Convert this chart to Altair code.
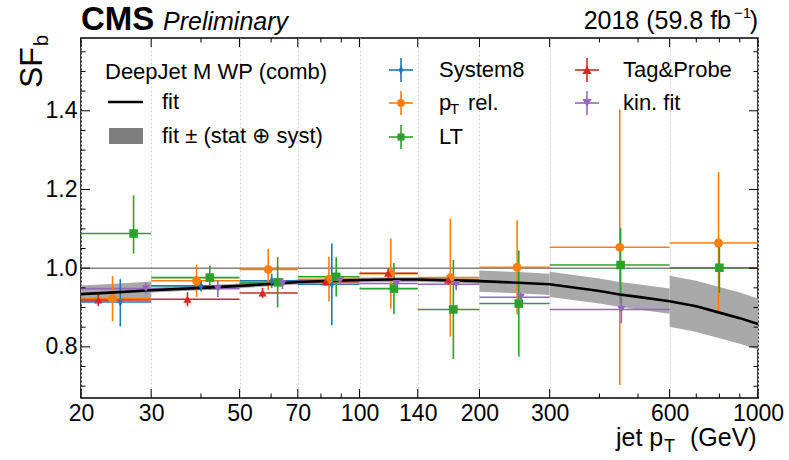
import altair as alt
import pandas as pd

FONT = "Liberation Sans"
W, H = 677, 360

# jet pT bin edges (GeV)
edges = [20, 30, 50, 70, 100, 140, 200, 300, 600, 1000]

methods = ["System8", "pT rel.", "LT", "Tag&Probe", "kin. fit"]
method_colors = ["#1f77b4", "#ff7f0e", "#2ca02c", "#d62728", "#9467bd"]
thin_diamond = "M0,-1L0.5,0L0,1L-0.5,0Z"
method_shapes = [thin_diamond, "circle", "square", "triangle-up", "triangle-down"]
method_sizes = [85, 62, 50, 85, 85]

# scale-factor measurements, one entry per pT bin starting from the first bin
sys8_pt = [25.1, 40.0, 60.2, 85.2]
sys8_sf = [0.914, 0.955, 0.968, 0.959]
sys8_err_dn = [0.062, 0.014, 0.018, 0.104]
sys8_err_up = [0.058, 0.014, 0.018, 0.104]

ptrel_pt = [24.0, 39.0, 59.0, 83.8, 119.8, 169.0, 248.6, 450.0, 796.0]
ptrel_sf = [0.923, 0.968, 0.997, 0.972, 0.986, 0.976, 1.002, 1.053, 1.064]
ptrel_err_dn = [0.058, 0.041, 0.052, 0.057, 0.089, 0.150, 0.120, 0.350, 0.180]
ptrel_err_up = [0.057, 0.041, 0.052, 0.057, 0.089, 0.150, 0.120, 0.350, 0.180]

lt_pt = [27.1, 42.1, 62.3, 87.4, 122.0, 172.0, 251.0, 452.0, 800.0]
lt_sf = [1.088, 0.976, 0.964, 0.978, 0.948, 0.895, 0.910, 1.008, 1.001]
lt_err_dn = [0.051, 0.031, 0.064, 0.050, 0.065, 0.126, 0.135, 0.095, 0.064]
lt_err_up = [0.097, 0.031, 0.064, 0.050, 0.065, 0.126, 0.135, 0.095, 0.064]

tnp_pt = [22.1, 37.0, 57.1, 82.2, 118.0, 167.0]
tnp_sf = [0.919, 0.921, 0.937, 0.965, 0.987, 0.970]
tnp_err_dn = [0.015, 0.018, 0.013, 0.010, 0.012, 0.012]
tnp_err_up = [0.015, 0.018, 0.013, 0.010, 0.012, 0.012]

kin_pt = [29.1, 44.1, 64.1, 89.4, 124.0, 174.8, 254.0, 454.0]
kin_sf = [0.948, 0.948, 0.961, 0.968, 0.961, 0.959, 0.926, 0.895]
kin_err_dn = [0.015, 0.021, 0.014, 0.010, 0.012, 0.015, 0.012, 0.035]
kin_err_up = [0.015, 0.021, 0.014, 0.010, 0.012, 0.015, 0.012, 0.035]

# combined fit and its per-bin (stat + syst) uncertainty
fit_pt = [20, 25, 30, 40, 50, 60, 70, 85, 100, 120, 140, 170, 200, 250, 300,
          400, 450, 500, 600, 700, 800, 900, 1000]
fit_sf = [0.934, 0.939, 0.944, 0.950, 0.955, 0.960, 0.965, 0.968, 0.970, 0.971,
          0.971, 0.969, 0.967, 0.963, 0.959, 0.942, 0.933, 0.927, 0.916, 0.903,
          0.887, 0.873, 0.858]
band_err = [0.022, 0.006, 0.006, 0.006, 0.006, 0.006, 0.027, 0.032, 0.065]

# axis ticks
x_major = edges
x_minor = [40, 60, 80, 90, 400, 500, 700, 800, 900]
y_major = [0.8, 1.0, 1.2, 1.4]
y_minor = [0.70, 0.75, 0.85, 0.90, 0.95, 1.05, 1.10, 1.15, 1.25, 1.30, 1.35,
           1.45, 1.50, 1.55]

# ---- tables -------------------------------------------------------------
series = [
    ("System8", sys8_pt, sys8_sf, sys8_err_dn, sys8_err_up),
    ("pT rel.", ptrel_pt, ptrel_sf, ptrel_err_dn, ptrel_err_up),
    ("LT", lt_pt, lt_sf, lt_err_dn, lt_err_up),
    ("Tag&Probe", tnp_pt, tnp_sf, tnp_err_dn, tnp_err_up),
    ("kin. fit", kin_pt, kin_sf, kin_err_dn, kin_err_up),
]
rows = []
for name, pts, sfs, dns, ups in series:
    for i, (p, s, d, u) in enumerate(zip(pts, sfs, dns, ups)):
        rows.append(dict(method=name, pt=p, sf=s, lo=s - d, hi=s + u,
                         xlo=edges[i], xhi=edges[i + 1]))
meas = pd.DataFrame(rows)

band_rows = []
for i in range(len(edges) - 1):
    for p, s in zip(fit_pt, fit_sf):
        if edges[i] <= p <= edges[i + 1]:
            band_rows.append(dict(bin=i, pt=p, lo=s - band_err[i], hi=s + band_err[i]))
band = pd.DataFrame(band_rows)
fit = pd.DataFrame({"pt": fit_pt, "sf": fit_sf})

# ---- scales and axes ----------------------------------------------------
xscale = alt.Scale(type="log", domain=[20, 1000], nice=False)
yscale = alt.Scale(domain=[0.67, 1.585], nice=False, zero=False)
xaxis = alt.Axis(values=x_major, format="d", labelFontSize=23, labelFont=FONT,
                 labelColor="black", labelPadding=4, labelFlush=False,
                 labelOverlap=False, ticks=False, domain=False, grid=True,
                 gridColor="#d4d4d4", gridDash=[2, 2], gridWidth=1, title=None)
yaxis = alt.Axis(values=y_major, format=".1f", labelFontSize=23, labelFont=FONT,
                 labelColor="black", labelPadding=4, ticks=False, domain=False,
                 grid=False, title=None)


def X(field):
    return alt.X(field, type="quantitative", scale=xscale, axis=xaxis)


def Y(field):
    return alt.Y(field, type="quantitative", scale=yscale, axis=yaxis)


color = alt.Color("method:N", scale=alt.Scale(domain=methods, range=method_colors),
                  legend=None)

layers = []

# uncertainty band, stepped per bin
layers.append(alt.Chart(band).mark_area(color="#a9a9a9", opacity=1).encode(
    x=X("pt"), y=Y("lo"), y2="hi:Q", detail="bin:N"))

# reference line at SF = 1
layers.append(alt.Chart(pd.DataFrame({"v": [1.0]})).mark_rule(
    color="#444444", strokeWidth=1).encode(y=Y("v")))

# error bars
layers.append(alt.Chart(meas).mark_rule(strokeWidth=1.6).encode(
    x=X("xlo"), x2="xhi:Q", y=Y("sf"), color=color))
layers.append(alt.Chart(meas).mark_rule(strokeWidth=1.6).encode(
    x=X("pt"), y=Y("lo"), y2="hi:Q", color=color))

# fit curve
layers.append(alt.Chart(fit).mark_line(color="black", strokeWidth=2.6).encode(
    x=X("pt"), y=Y("sf")))

# markers
layers.append(alt.Chart(meas).mark_point(filled=True, opacity=1, strokeWidth=0).encode(
    x=X("pt"), y=Y("sf"), color=color,
    shape=alt.Shape("method:N", scale=alt.Scale(domain=methods, range=method_shapes),
                    legend=None),
    size=alt.Size("method:N", scale=alt.Scale(domain=methods, range=method_sizes),
                  legend=None)))

# inward ticks on all four sides
def xticks(vals, length):
    d = pd.DataFrame({"v": vals})
    return [
        alt.Chart(d).mark_rule(color="black", strokeWidth=1).encode(
            x=X("v"), y=alt.value(H), y2=alt.value(H - length)),
        alt.Chart(d).mark_rule(color="black", strokeWidth=1).encode(
            x=X("v"), y=alt.value(0), y2=alt.value(length)),
    ]


def yticks(vals, length):
    d = pd.DataFrame({"v": vals})
    return [
        alt.Chart(d).mark_rule(color="black", strokeWidth=1).encode(
            y=Y("v"), x=alt.value(0), x2=alt.value(length)),
        alt.Chart(d).mark_rule(color="black", strokeWidth=1).encode(
            y=Y("v"), x=alt.value(W), x2=alt.value(W - length)),
    ]


layers += xticks(x_major, 9) + xticks(x_minor, 4.5)
layers += yticks(y_major, 9) + yticks(y_minor, 4.5)


# ---- free text and legend ------------------------------------------------
def txt(s, x, y, size=22, align="left", baseline="middle", **kw):
    return alt.Chart(pd.DataFrame({"s": [s]})).mark_text(
        align=align, baseline=baseline, fontSize=size, font=FONT, color="black",
        **kw).encode(text="s:N", x=alt.value(x), y=alt.value(y))


def seg(x1, y1, x2, y2, col, w):
    return alt.Chart(pd.DataFrame({"a": [0]})).mark_rule(color=col, strokeWidth=w).encode(
        x=alt.value(x1), x2=alt.value(x2), y=alt.value(y1), y2=alt.value(y2))


# header
layers.append(txt("CMS", 0, -8, size=33, baseline="alphabetic", fontWeight="bold"))
layers.append(txt("Preliminary", 82, -8, size=25, baseline="alphabetic", fontStyle="italic"))
layers.append(txt(")", W, -9, size=25, align="right", baseline="alphabetic"))
layers.append(txt("\u22121", W - 7, -20, size=15, align="right", baseline="alphabetic"))
layers.append(txt("2018 (59.8 fb", W - 27, -9, size=25, align="right", baseline="alphabetic"))

# axis titles
layers.append(txt("jet p", 535, 408, size=25, baseline="alphabetic"))
layers.append(txt("T", 583, 414, size=18, baseline="alphabetic"))
layers.append(txt("(GeV)", 609, 408, size=25, baseline="alphabetic"))
layers.append(txt("SF", -39, 50, size=32, baseline="alphabetic", angle=270))
layers.append(txt("b", -33, 8, size=20, baseline="alphabetic", angle=270))

# legend: fit entries
layers.append(txt("DeepJet M WP (comb)", 24, 34))
layers.append(seg(27, 64, 62, 64, "black", 2.6))
layers.append(txt("fit", 81, 64))
layers.append(alt.Chart(pd.DataFrame({"a": [0]})).mark_rect(color="#7f7f7f").encode(
    x=alt.value(28), x2=alt.value(62), y=alt.value(90), y2=alt.value(106)))
layers.append(txt("fit \u00b1 (stat \u2295 syst)", 81, 98))

# legend: measurement entries (column, row)
slots = [(320, 32), (320, 65), (320, 99), (506, 32), (506, 65)]
for (mx, my), col, shp, sz in zip(slots, method_colors, method_shapes, method_sizes):
    layers.append(seg(mx - 12, my, mx + 12, my, col, 1.6))
    layers.append(seg(mx, my - 12, mx, my + 12, col, 1.6))
    layers.append(alt.Chart(pd.DataFrame({"a": [0]})).mark_point(
        filled=True, opacity=1, strokeWidth=0, shape=shp, size=sz, color=col).encode(
        x=alt.value(mx), y=alt.value(my)))

layers.append(txt("System8", 358, 32))
layers.append(txt("p", 358, 65))
layers.append(txt("T", 369, 71, size=15))
layers.append(txt("rel.", 387, 65))
layers.append(txt("LT", 358, 99))
layers.append(txt("Tag&Probe", 542, 32))
layers.append(txt("kin. fit", 542, 65))

chart = alt.layer(*layers).properties(
    width=W, height=H,
    padding={"left": 81, "top": 38, "right": 31, "bottom": 62},
    autosize=alt.AutoSizeParams(type="none"),
).configure_view(stroke="black", strokeWidth=1.5)

chart.save("out.html", embed_options={"renderer": "svg", "actions": False})
